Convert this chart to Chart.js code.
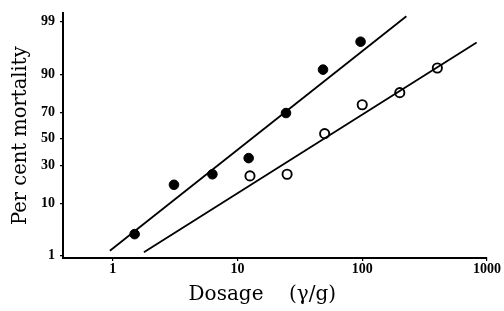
<!DOCTYPE html>
<html>
<head>
<meta charset="utf-8">
<script src="https://cdn.jsdelivr.net/npm/chart.js@4"></script>
<style>
  body { margin: 0; background: #fff; }
  #c { display: block; }
</style>
</head>
<body>
<canvas id="c" width="504" height="311"></canvas>
<script>
// dosage (gamma/g) and per cent mortality
const filledDose = [1.5, 3.1, 6.3, 12.3, 24.5, 48.5, 97];
const filledPct = [2.9, 18, 24, 35, 69.5, 91.5, 97.3];
const openDose = [12.6, 25, 50, 100, 200, 400];
const openPct = [23, 24, 54, 75, 82, 92];

// fitted lines, end points
const filledLineDose = [0.95, 226];
const filledLinePct = [1.3, 99.25];
const openLineDose = [1.78, 826];
const openLinePct = [1.2, 97.2];

const xTicks = [1, 10, 100, 1000];
const yTickPct = [1, 10, 30, 50, 70, 90, 99];
const yTickLabels = ['1', '10', '30', '50', '70', '90', '99'];

// inverse normal cdf (Acklam) -> probit scale
function probit(pct) {
  const p = pct / 100;
  const a = [-3.969683028665376e+01, 2.209460984245205e+02, -2.759285104469687e+02, 1.383577518672690e+02, -3.066479806614716e+01, 2.506628277459239e+00];
  const b = [-5.447609879822406e+01, 1.615858368580409e+02, -1.556989798598866e+02, 6.680131188771972e+01, -1.328068155288572e+01];
  const c = [-7.784894002430293e-03, -3.223964580411365e-01, -2.400758277161838e+00, -2.549732539343734e+00, 4.374664141464968e+00, 2.938163982698783e+00];
  const d = [7.784695709041462e-03, 3.224671290700398e-01, 2.445134137142996e+00, 3.754408661907416e+00];
  const pl = 0.02425;
  let q, r;
  if (p < pl) {
    q = Math.sqrt(-2 * Math.log(p));
    return (((((c[0]*q+c[1])*q+c[2])*q+c[3])*q+c[4])*q+c[5]) / ((((d[0]*q+d[1])*q+d[2])*q+d[3])*q+1);
  }
  if (p > 1 - pl) {
    q = Math.sqrt(-2 * Math.log(1 - p));
    return -(((((c[0]*q+c[1])*q+c[2])*q+c[3])*q+c[4])*q+c[5]) / ((((d[0]*q+d[1])*q+d[2])*q+d[3])*q+1);
  }
  q = p - 0.5;
  r = q * q;
  return (((((a[0]*r+a[1])*r+a[2])*r+a[3])*r+a[4])*r+a[5])*q / (((((b[0]*r+b[1])*r+b[2])*r+b[3])*r+b[4])*r+1);
}

const pts = (xs, ys) => xs.map((x, i) => ({x: x, y: probit(ys[i])}));

const serif = "'DejaVu Serif', 'Liberation Serif', serif";
const tickFont = {family: "'Liberation Serif', serif", size: 14, weight: 'bold'};

new Chart(document.getElementById('c'), {
  type: 'scatter',
  data: {
    datasets: [
      {
        type: 'line',
        data: pts(filledLineDose, filledLinePct),
        borderColor: '#000',
        borderWidth: 1.8,
        pointRadius: 0,
      },
      {
        type: 'line',
        data: pts(openLineDose, openLinePct),
        borderColor: '#000',
        borderWidth: 1.8,
        pointRadius: 0,
      },
      {
        data: pts(filledDose, filledPct),
        backgroundColor: '#000',
        borderColor: '#000',
        pointRadius: 4.8,
        borderWidth: 1,
      },
      {
        data: pts(openDose, openPct),
        backgroundColor: '#fff',
        borderColor: '#000',
        pointRadius: 4.6,
        borderWidth: 1.9,
      },
    ]
  },
  options: {
    responsive: false,
    animation: false,
    layout: {padding: {top: 12, right: 17, left: 0, bottom: 0}},
    plugins: {legend: {display: false}, tooltip: {enabled: false}},
    scales: {
      x: {
        type: 'logarithmic',
        min: 0.4,
        max: 1000,
        afterBuildTicks: (s) => { s.ticks = xTicks.map(v => ({value: v})); },
        afterFit: (s) => { s.height = 53; },
        ticks: {
          color: '#000',
          font: tickFont,
          padding: 0,
          maxRotation: 0,
          autoSkip: false,
          callback: (v) => String(v),
        },
        grid: {drawOnChartArea: false, color: '#000', tickLength: 3, lineWidth: 1.2},
        border: {display: true, color: '#000', width: 2},
        title: {
          display: true,
          text: 'Dosage    (γ/g)    ',
          color: '#000',
          font: {family: serif, size: 20},
          padding: {top: 0, bottom: 4},
        },
      },
      y: {
        min: probit(0.89),
        max: probit(99.36),
        afterBuildTicks: (s) => { s.ticks = yTickPct.map(p => ({value: probit(p)})); },
        afterFit: (s) => { s.width = 63; },
        ticks: {
          color: '#000',
          font: tickFont,
          padding: 5,
          autoSkip: false,
          callback: (v, i) => yTickLabels[i],
        },
        grid: {drawOnChartArea: false, color: '#000', tickLength: 3, lineWidth: 1.2},
        border: {display: true, color: '#000', width: 2},
        title: {
          display: true,
          text: 'Per cent mortality',
          color: '#000',
          font: {family: serif, size: 19.5},
          padding: {top: 9, bottom: 0},
        },
      },
    },
  },
});
</script>
</body>
</html>
